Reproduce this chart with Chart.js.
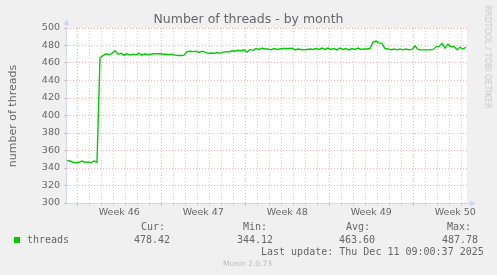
<!DOCTYPE html>
<html lang="en">
<head>
  <meta charset="UTF-8">
  <title>Number of threads - by month</title>
  <script src="https://cdn.jsdelivr.net/npm/chart.js"></script>
  <style>
    body {
      margin: 0;
      background-color: #f0f0f0;
    }
    .wrap {
      position: relative;
      width: 497px;
      height: 275px;
      background-color: #f0f0f0;
      overflow: hidden;
    }
    canvas {
      position: absolute;
      left: 0;
      top: 0;
    }
    .t {
      position: absolute;
      white-space: nowrap;
      line-height: 1;
      color: #666;
    }
    .sans { font-family: "DejaVu Sans", sans-serif; }
    .mono { font-family: "DejaVu Sans Mono", monospace; font-size: 10px; }
    .title { font-size: 12.5px; left: 0; width: 497px; text-align: center; top: 13px; }
    .ytitle { font-size: 11px; left: 11.5px; top: 116px; transform: translate(-50%, -50%) rotate(-90deg); }
    .rrd { font-size: 8px; color: #c8c8c8; left: 487px; top: 57px; transform: translate(-50%, -50%) rotate(90deg); }
    .munin { font-size: 7.5px; color: #bbb; left: 223px; top: 260px; }
    .swatch { position: absolute; left: 14px; top: 237px; width: 6px; height: 6px; background: #00cc00; }
  </style>
</head>
<body>

  <div class="wrap">
    <canvas id="chart" width="497" height="275"></canvas>

    <div class="t sans title">Number of threads - by month</div>
    <div class="t sans ytitle">number of threads</div>
    <div class="t sans rrd">RRDTOOL / TOBI OETIKER</div>

    <!-- legend -->
    <div class="swatch"></div>
    <div class="t mono" style="left:27px; top:235px;">threads</div>
    <div class="t mono" style="left:141px; top:222px;">Cur:</div>
    <div class="t mono" style="left:243px; top:222px;">Min:</div>
    <div class="t mono" style="left:346px; top:222px;">Avg:</div>
    <div class="t mono" style="left:447px; top:222px;">Max:</div>
    <div class="t mono" id="cur" style="left:134px; top:235px;"></div>
    <div class="t mono" id="min" style="left:237px; top:235px;"></div>
    <div class="t mono" id="avg" style="left:339px; top:235px;"></div>
    <div class="t mono" id="max" style="left:442px; top:235px;"></div>
    <div class="t mono" style="left:261px; top:247px;">Last update: Thu Dec 11 09:00:37 2025</div>
    <div class="t sans munin">Munin 2.0.73</div>
  </div>

  <script>
    // x is measured in days from the left edge of the graph (12 px per day)
    const RANGE_DAYS = 400 / 12;
    const STEP_DAYS = 0.25;        // one sample every 6 hours
    const FIRST_SUNDAY = 0.86;     // first week boundary after the left edge

    const weekLabels = ['Week 46', 'Week 47', 'Week 48', 'Week 49', 'Week 50'];

    const threads = [
      348.5, 348, 346.5, 346, 346.5, 348, 346.5, 347, 346, 348, 346.5,
      466, 468.5, 470.5, 469.5, 471, 474, 470, 471, 469, 470.5,
      469, 470, 469.5, 471, 469, 470.5, 469.5, 470, 470.5, 470.5,
      470.5, 470, 470, 469.5, 470, 469, 468.5, 468.5, 469, 473,
      473.5, 473, 473.5, 472, 473.5, 472.5, 471, 471.5, 471, 472,
      471, 472.5, 473, 472.5, 474, 473.5, 474.5, 474, 475, 472.5,
      475.5, 474.5, 476.5, 475.5, 477, 476, 476, 475, 476.5, 475.5,
      476, 476.5, 476.5, 476.5, 477, 475, 476, 475.5, 475, 475.5,
      476, 475.5, 476.5, 475.5, 477, 475.5, 477, 475.5, 476.5, 475,
      477, 475.5, 476.5, 475, 476.5, 475.5, 477, 475.5, 476, 476,
      476.5, 484, 485, 483, 482.5, 476.5, 476, 475, 476, 475,
      476, 475, 476, 475, 475.5, 479.5, 475.5, 475, 475, 475,
      475, 475.5, 478.5, 479, 482.5, 477, 481.5, 478.5, 479, 475,
      478, 476, 478
    ];

    const legendCur = '478.42';
    const legendMin = '344.12';
    const legendAvg = '463.60';
    const legendMax = '487.78';

    const Y_MIN = 300;
    const Y_MAX = 500;

    document.getElementById('cur').textContent = legendCur;
    document.getElementById('min').textContent = legendMin;
    document.getElementById('avg').textContent = legendAvg;
    document.getElementById('max').textContent = legendMax;

    const MGRID = 'rgba(220, 90, 90, 0.45)';
    const GRID = 'rgba(160, 160, 160, 0.45)';
    const AXIS = '#CFD6F8';
    const FONT = '#666666';

    // day lines and week centres (where the week labels go)
    const dayLines = [];
    for (let k = 0; FIRST_SUNDAY + k <= RANGE_DAYS; k++) dayLines.push(FIRST_SUNDAY + k);
    const weekCentres = weekLabels.map((_, i) => FIRST_SUNDAY + 3.5 + 7 * i);

    const isCentre = v => weekCentres.some(c => Math.abs(c - v) < 1e-6);
    const isWeekLine = v => !isCentre(v) && Math.round(v - FIRST_SUNDAY) % 7 === 0;

    const points = threads.map((y, i) => ({ x: i * STEP_DAYS, y: y }));

    // white canvas + light blue axes with arrows, like rrdtool
    const munin = {
      id: 'munin',
      beforeDraw(chart) {
        const a = chart.chartArea;
        const ctx = chart.ctx;
        ctx.save();
        ctx.fillStyle = '#ffffff';
        ctx.fillRect(a.left, a.top, a.right - a.left, a.bottom - a.top);
        ctx.restore();
      },
      afterDraw(chart) {
        const a = chart.chartArea;
        const ctx = chart.ctx;
        const x0 = Math.round(a.left) - 0.5;
        const y0 = Math.round(a.bottom) + 0.5;
        ctx.save();
        ctx.strokeStyle = AXIS;
        ctx.fillStyle = AXIS;
        ctx.lineWidth = 1;
        ctx.beginPath();
        ctx.moveTo(x0, y0);
        ctx.lineTo(x0, a.top - 5);
        ctx.moveTo(x0, y0);
        ctx.lineTo(a.right + 5, y0);
        ctx.stroke();
        ctx.beginPath();
        ctx.moveTo(x0 - 3, a.top - 3);
        ctx.lineTo(x0 + 3, a.top - 3);
        ctx.lineTo(x0, a.top - 9);
        ctx.closePath();
        ctx.fill();
        ctx.beginPath();
        ctx.moveTo(a.right + 3, y0 - 3);
        ctx.lineTo(a.right + 3, y0 + 3);
        ctx.lineTo(a.right + 9, y0);
        ctx.closePath();
        ctx.fill();
        ctx.restore();
      }
    };

    const tickFont = { family: 'DejaVu Sans', size: 9.5 };

    new Chart(document.getElementById('chart'), {
      type: 'line',
      data: {
        datasets: [{
          label: 'threads',
          data: points,
          borderColor: '#00cc00',
          borderWidth: 1.4,
          pointRadius: 0,
          tension: 0,
          fill: false
        }]
      },
      options: {
        responsive: false,
        animation: false,
        events: [],
        layout: { padding: { top: 28, right: 30, bottom: 0, left: 0 } },
        plugins: {
          legend: { display: false },
          title: { display: false },
          tooltip: { enabled: false }
        },
        scales: {
          x: {
            type: 'linear',
            min: 0,
            max: RANGE_DAYS,
            afterBuildTicks: scale => {
              scale.ticks = dayLines.concat(weekCentres)
                .sort((a, b) => a - b)
                .map(v => ({ value: v }));
            },
            afterFit: scale => { scale.height = 72; },
            ticks: {
              autoSkip: false,
              maxRotation: 0,
              padding: 1,
              color: FONT,
              font: tickFont,
              callback: value => {
                const i = weekCentres.findIndex(c => Math.abs(c - value) < 1e-6);
                return i >= 0 ? weekLabels[i] : '';
              }
            },
            grid: {
              color: ctx => {
                const v = ctx.tick ? ctx.tick.value : 0;
                if (isCentre(v)) return 'rgba(0,0,0,0)';
                return isWeekLine(v) ? MGRID : GRID;
              },
              tickLength: 3
            },
            border: { display: false, dash: [1, 2] }
          },
          y: {
            min: Y_MIN,
            max: Y_MAX,
            afterFit: scale => { scale.width = 67; },
            ticks: {
              stepSize: 10,
              padding: 4,
              color: FONT,
              font: tickFont,
              callback: value => (value % 20 === 0 ? value : '')
            },
            grid: {
              color: ctx => (ctx.tick && ctx.tick.value % 20 === 0 ? MGRID : GRID),
              tickLength: 3
            },
            border: { display: false, dash: [1, 2] }
          }
        }
      },
      plugins: [munin]
    });
  </script>

</body>
</html>
